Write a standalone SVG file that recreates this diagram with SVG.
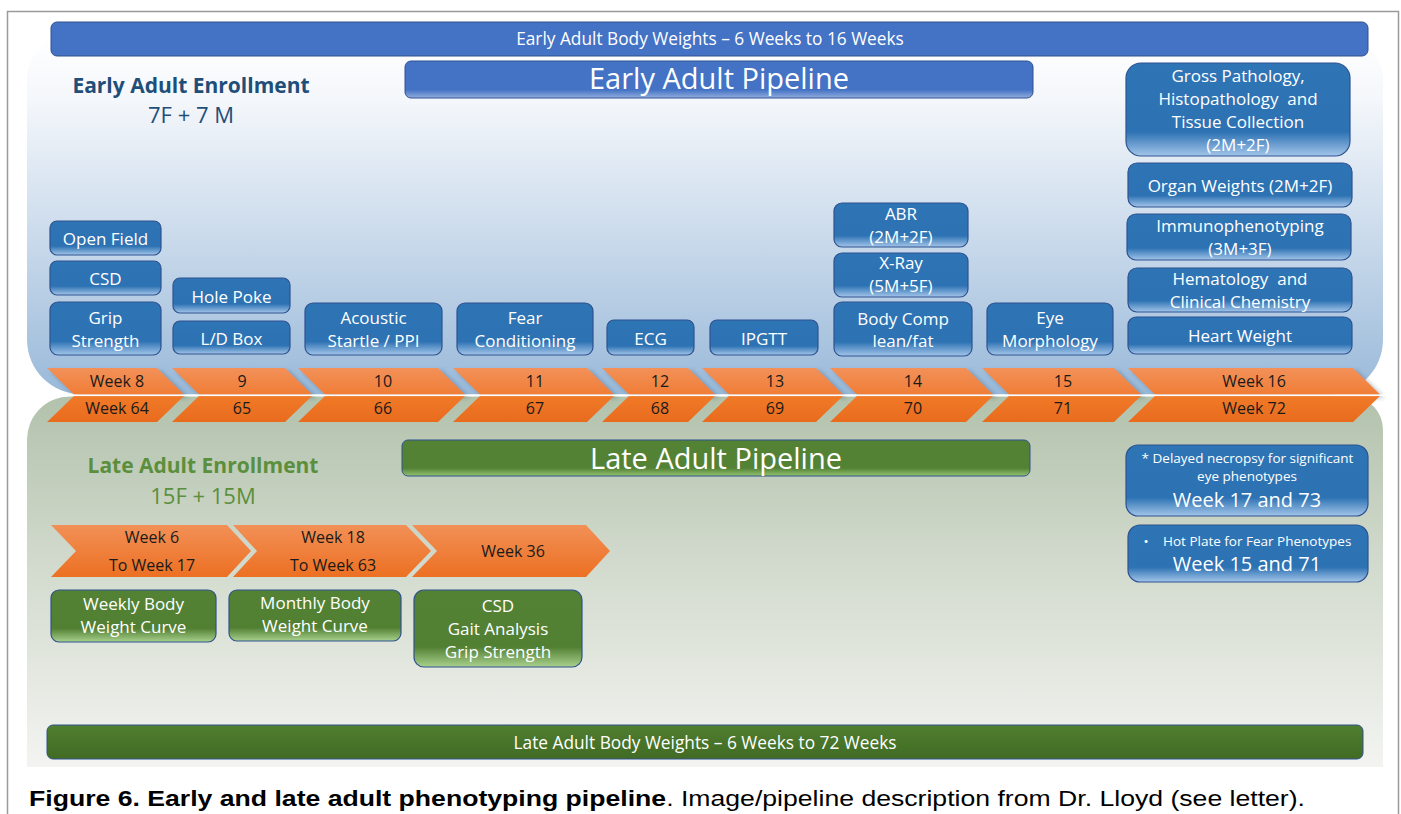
<svg xmlns="http://www.w3.org/2000/svg" width="1401" height="814" viewBox="0 0 1401 814">
<defs>
<linearGradient id="gEarly" x1="0" y1="0" x2="0" y2="1">
<stop offset="0" stop-color="#FFFFFF"/><stop offset="0.18" stop-color="#F4F7FB"/><stop offset="0.5" stop-color="#D1DFEE"/><stop offset="1" stop-color="#99B9D9"/>
</linearGradient>
<linearGradient id="gLate" x1="0" y1="0" x2="0" y2="1">
<stop offset="0" stop-color="#B2C2AC"/><stop offset="0.45" stop-color="#D2DACD"/><stop offset="1" stop-color="#F3F4F1"/>
</linearGradient>
<linearGradient id="gBlue" x1="0" y1="0" x2="0" y2="1">
<stop offset="0" stop-color="#2E75B6"/><stop offset="0.74" stop-color="#2D72B3"/><stop offset="1" stop-color="#A3C5E9"/>
</linearGradient>
<linearGradient id="gGreen" x1="0" y1="0" x2="0" y2="1">
<stop offset="0" stop-color="#548235"/><stop offset="0.74" stop-color="#528033"/><stop offset="1" stop-color="#A9D18E"/>
</linearGradient>
<linearGradient id="gPipeB" x1="0" y1="0" x2="0" y2="1">
<stop offset="0" stop-color="#4472C4"/><stop offset="0.78" stop-color="#4472C4"/><stop offset="1" stop-color="#92ADDD"/>
</linearGradient>
<linearGradient id="gPipeG" x1="0" y1="0" x2="0" y2="1">
<stop offset="0" stop-color="#548235"/><stop offset="0.78" stop-color="#548235"/><stop offset="1" stop-color="#93C270"/>
</linearGradient>
<linearGradient id="gLateBar" x1="0" y1="0" x2="0" y2="1">
<stop offset="0" stop-color="#507E30"/><stop offset="1" stop-color="#416B24"/>
</linearGradient>
<linearGradient id="gChTop" x1="0" y1="0" x2="0" y2="1">
<stop offset="0" stop-color="#F2915A"/><stop offset="1" stop-color="#F07D35"/>
</linearGradient>
<linearGradient id="gChBot" x1="0" y1="0" x2="0" y2="1">
<stop offset="0" stop-color="#F07A28"/><stop offset="1" stop-color="#E96B1E"/>
</linearGradient>
<linearGradient id="gChLate" x1="0" y1="0" x2="0" y2="1">
<stop offset="0" stop-color="#F29057"/><stop offset="1" stop-color="#EC7022"/>
</linearGradient>
<filter id="sh" x="-10%" y="-30%" width="130%" height="180%">
<feDropShadow dx="4" dy="3" stdDeviation="2" flood-color="#27465C" flood-opacity="0.4"/>
</filter>
<style>
.t{font-family:"Open Sans","Noto Sans",sans-serif}
.w{font-family:"Open Sans","Noto Sans",sans-serif;fill:#FFFFFF;text-anchor:middle;font-size:17px}
.c{font-family:"Open Sans","Noto Sans",sans-serif;fill:#1A1A1A;text-anchor:middle;font-size:16px}
.s{font-size:13.5px}
.b{font-size:20px}
.bar{font-size:17.3px}
.pipe{font-size:29px}
.bn{fill:url(#gBlue);stroke:#2F528F;stroke-width:1.2}
.gn{fill:url(#gGreen);stroke:#2F528F;stroke-width:1.2}
.ct{fill:url(#gChTop)}
.cb{fill:url(#gChBot)}
.cl{fill:url(#gChLate)}
</style>
</defs>
<rect x="0" y="0" width="1401" height="814" fill="#FFFFFF"/>
<rect x="7.5" y="11.5" width="1391" height="810" fill="none" stroke="#9A9A9A" stroke-width="1.5"/>

<g id="panels">
<path d="M27 80 A45 45 0 0 1 72 35 L1338 35 A45 45 0 0 1 1383 80 L1383 340 A55 55 0 0 1 1328 394.5 L82 394.5 A55 55 0 0 1 27 340 Z" fill="url(#gEarly)"/>
<path d="M27 767 L27 440 A43 43 0 0 1 70 396.5 L1350 396.5 A33 33 0 0 1 1383 430 L1383 767 Z" fill="url(#gLate)"/>
</g>

<g id="early-weights-bar">
<rect x="51" y="22" width="1317" height="34" rx="6" fill="#4472C4" stroke="#2F528F" stroke-width="1"/>
<text class="w bar" x="710" y="45">Early Adult Body Weights – 6 Weeks to 16 Weeks</text>
</g>
<g id="early-pipeline">
<rect x="405" y="61" width="628" height="37" rx="6" fill="url(#gPipeB)" stroke="#2F528F" stroke-width="1"/>
<text class="w pipe" x="719" y="89">Early Adult Pipeline</text>
</g>
<g id="early-enrollment">
<text class="t" x="191" y="93" text-anchor="middle" font-size="21" font-weight="bold" fill="#1F4E79">Early Adult Enrollment</text>
<text class="t" x="191" y="123" text-anchor="middle" font-size="22" fill="#1F4E79">7F + 7 M</text>
</g>

<g id="open-field"><rect class="bn" x="50" y="221" width="111" height="34" rx="7"/><text class="w" x="105.5" y="245">Open Field</text></g>
<g id="csd"><rect class="bn" x="50" y="261" width="111" height="34" rx="7"/><text class="w" x="105.5" y="285">CSD</text></g>
<g id="grip-strength"><rect class="bn" x="50" y="302" width="111" height="53" rx="8"/><text class="w" x="105.5" y="324">Grip</text><text class="w" x="105.5" y="347">Strength</text></g>
<g id="hole-poke"><rect class="bn" x="173" y="278" width="117" height="35" rx="7"/><text class="w" x="231.5" y="303">Hole Poke</text></g>
<g id="ld-box"><rect class="bn" x="173" y="321" width="117" height="33" rx="7"/><text class="w" x="231.5" y="345">L/D Box</text></g>
<g id="acoustic-startle"><rect class="bn" x="305" y="303" width="137" height="52" rx="8"/><text class="w" x="373.5" y="324">Acoustic</text><text class="w" x="373.5" y="347">Startle / PPI</text></g>
<g id="fear-conditioning"><rect class="bn" x="457" y="303" width="136" height="52" rx="8"/><text class="w" x="525" y="324">Fear</text><text class="w" x="525" y="347">Conditioning</text></g>
<g id="ecg"><rect class="bn" x="607" y="320" width="87" height="35" rx="7"/><text class="w" x="650.5" y="345">ECG</text></g>
<g id="ipgtt"><rect class="bn" x="710" y="320" width="108" height="35" rx="7"/><text class="w" x="764" y="345">IPGTT</text></g>
<g id="abr"><rect class="bn" x="834" y="203" width="134" height="44" rx="8"/><text class="w" x="901" y="219.5">ABR</text><text class="w" x="901" y="243">(2M+2F)</text></g>
<g id="x-ray"><rect class="bn" x="834" y="253" width="134" height="44" rx="8"/><text class="w" x="901" y="269">X-Ray</text><text class="w" x="901" y="292">(5M+5F)</text></g>
<g id="body-comp"><rect class="bn" x="834" y="302" width="138" height="54" rx="8"/><text class="w" x="903" y="325">Body Comp</text><text class="w" x="903" y="347">lean/fat</text></g>
<g id="eye-morphology"><rect class="bn" x="987" y="303" width="126" height="52" rx="8"/><text class="w" x="1050" y="324">Eye</text><text class="w" x="1050" y="347">Morphology</text></g>
<g id="gross-pathology"><rect class="bn" x="1126" y="63" width="224" height="93" rx="15"/><text class="w" x="1238" y="82">Gross Pathology,</text><text class="w" x="1238" y="105" xml:space="preserve">Histopathology  and</text><text class="w" x="1238" y="128">Tissue Collection</text><text class="w" x="1238" y="151">(2M+2F)</text></g>
<g id="organ-weights"><rect class="bn" x="1128" y="163" width="224" height="44" rx="9"/><text class="w" x="1240" y="192">Organ Weights (2M+2F)</text></g>
<g id="immunophenotyping"><rect class="bn" x="1127" y="214" width="224" height="46" rx="9"/><text class="w" x="1240" y="232">Immunophenotyping</text><text class="w" x="1240" y="255">(3M+3F)</text></g>
<g id="hematology"><rect class="bn" x="1128" y="268" width="224" height="44" rx="9"/><text class="w" x="1240" y="284.5" xml:space="preserve">Hematology  and</text><text class="w" x="1240" y="308">Clinical Chemistry</text></g>
<g id="heart-weight"><rect class="bn" x="1128" y="317" width="224" height="37" rx="8"/><text class="w" x="1240" y="342">Heart Weight</text></g>

<g id="timeline-early" filter="url(#sh)">
<polygon class="ct" points="47,368 157,368 184,394.5 74,394.5"/>
<polygon class="ct" points="172,368 285,368 312,394.5 199,394.5"/>
<polygon class="ct" points="298,368 438,368 465,394.5 325,394.5"/>
<polygon class="ct" points="453,368 587,368 614,394.5 480,394.5"/>
<polygon class="ct" points="602,368 688,368 715,394.5 629,394.5"/>
<polygon class="ct" points="702,368 816,368 843,394.5 729,394.5"/>
<polygon class="ct" points="830,368 966,368 993,394.5 857,394.5"/>
<polygon class="ct" points="982,368 1114,368 1141,394.5 1009,394.5"/>
<polygon class="ct" points="1128,368 1353,368 1380,394.5 1155,394.5"/>
</g>
<g id="timeline-late">
<polygon class="cb" points="74,396 184,396 157,422 47,422"/>
<polygon class="cb" points="199,396 312,396 285,422 172,422"/>
<polygon class="cb" points="325,396 465,396 438,422 298,422"/>
<polygon class="cb" points="480,396 614,396 587,422 453,422"/>
<polygon class="cb" points="629,396 715,396 688,422 602,422"/>
<polygon class="cb" points="729,396 843,396 816,422 702,422"/>
<polygon class="cb" points="857,396 993,396 966,422 830,422"/>
<polygon class="cb" points="1009,396 1141,396 1114,422 982,422"/>
<polygon class="cb" points="1155,396 1380,396 1353,422 1128,422"/>
</g>
<rect x="27" y="394.5" width="1360" height="1.6" fill="#FFFFFF"/>
<g id="week-labels">
<text class="c" x="117" y="387">Week 8</text>
<text class="c" x="242" y="387">9</text>
<text class="c" x="383" y="387">10</text>
<text class="c" x="535" y="387">11</text>
<text class="c" x="660" y="387">12</text>
<text class="c" x="775" y="387">13</text>
<text class="c" x="913" y="387">14</text>
<text class="c" x="1063" y="387">15</text>
<text class="c" x="1254" y="387">Week 16</text>
<text class="c" x="117" y="414">Week 64</text>
<text class="c" x="242" y="414">65</text>
<text class="c" x="383" y="414">66</text>
<text class="c" x="535" y="414">67</text>
<text class="c" x="660" y="414">68</text>
<text class="c" x="775" y="414">69</text>
<text class="c" x="913" y="414">70</text>
<text class="c" x="1063" y="414">71</text>
<text class="c" x="1254" y="414">Week 72</text>
</g>

<g id="late-pipeline">
<rect x="402" y="440" width="628" height="36" rx="6" fill="url(#gPipeG)" stroke="#2F528F" stroke-width="1"/>
<text class="w pipe" x="716" y="469">Late Adult Pipeline</text>
</g>
<g id="late-enrollment">
<text class="t" x="203" y="473" text-anchor="middle" font-size="21" font-weight="bold" fill="#5B8F3C">Late Adult Enrollment</text>
<text class="t" x="203" y="504" text-anchor="middle" font-size="22" fill="#5B8F3C">15F + 15M</text>
</g>

<g id="late-week-6"><polygon class="cl" points="51,525 227,525 251,551 227,577 51,577 76,551"/><text class="c" x="152" y="543">Week 6</text><text class="c" x="152" y="571">To Week 17</text></g>
<g id="late-week-18"><polygon class="cl" points="233,525 406,525 431,551 406,577 233,577 257,551"/><text class="c" x="333" y="543">Week 18</text><text class="c" x="333" y="571">To Week 63</text></g>
<g id="late-week-36"><polygon class="cl" points="412,525 586,525 610,551 586,577 412,577 437,551"/><text class="c" x="513" y="557">Week 36</text></g>

<g id="weekly-body-weight"><rect class="gn" x="51" y="590" width="165" height="52" rx="8"/><text class="w" x="133.5" y="610">Weekly Body</text><text class="w" x="133.5" y="633">Weight Curve</text></g>
<g id="monthly-body-weight"><rect class="gn" x="229" y="590" width="172" height="51" rx="8"/><text class="w" x="315" y="609">Monthly Body</text><text class="w" x="315" y="632">Weight Curve</text></g>
<g id="csd-gait-grip"><rect class="gn" x="414" y="590" width="168" height="77" rx="10"/><text class="w" x="498" y="612">CSD</text><text class="w" x="498" y="635">Gait Analysis</text><text class="w" x="498" y="658">Grip Strength</text></g>

<g id="delayed-necropsy"><rect class="bn" x="1126" y="445" width="242" height="71" rx="12"/>
<text class="w s" x="1247.5" y="463">* Delayed necropsy for significant</text>
<text class="w s" x="1247" y="481">eye phenotypes</text>
<text class="w b" x="1247" y="507">Week 17 and 73</text></g>
<g id="hot-plate"><rect class="bn" x="1128" y="525" width="240" height="57" rx="12"/>
<text class="w s" x="1146" y="546">•</text>
<text class="w s" x="1163" y="546" style="text-anchor:start">Hot Plate for Fear Phenotypes</text>
<text class="w b" x="1247" y="571">Week 15 and 71</text></g>

<g id="late-weights-bar">
<rect x="47" y="725" width="1316" height="34" rx="6" fill="url(#gLateBar)" stroke="#2F528F" stroke-width="1"/>
<text class="w bar" x="705" y="749">Late Adult Body Weights – 6 Weeks to 72 Weeks</text>
</g>

<g id="connectors"/>

<text transform="translate(29,806) scale(1.21,1)" font-family="'Liberation Sans',Arial,sans-serif" font-size="22" fill="#000000"><tspan font-weight="bold">Figure 6. Early and late adult phenotyping pipeline</tspan>. Image/pipeline description from Dr. Lloyd (see letter).</text>
</svg>
